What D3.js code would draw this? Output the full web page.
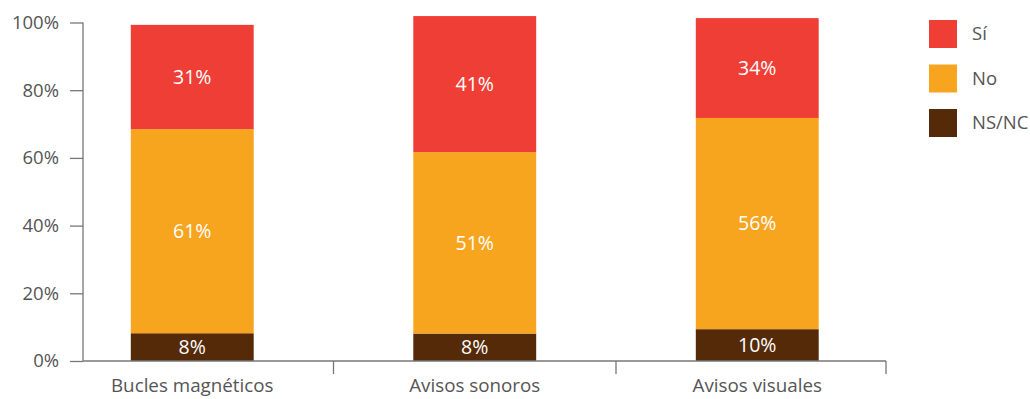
<!DOCTYPE html>
<html>
<head>
<meta charset="utf-8">
<script src="https://cdn.jsdelivr.net/npm/d3@7"></script>
<style>
  html, body { margin: 0; padding: 0; background: #fff; }
  svg { display: block; font-family: "Open Sans", "Noto Sans", sans-serif; }
</style>
</head>
<body>
<svg id="chart" width="1030" height="399"></svg>
<script>
// ---- data ----
const categories = ["Bucles magnéticos", "Avisos sonoros", "Avisos visuales"];
const seriesNames = ["NS/NC", "No", "Sí"];
// drawn segment heights
const nsncValues = [8.2, 8.1, 9.4];
const noValues   = [60.3, 53.6, 62.4];
const siValues   = [30.8, 40.2, 29.5];
// printed labels
const nsncLabels = ["8%", "8%", "10%"];
const noLabels   = ["61%", "51%", "56%"];
const siLabels   = ["31%", "41%", "34%"];
const yTicks = [0, 20, 40, 60, 80, 100];
const legendOrder = ["Sí", "No", "NS/NC"];

// ---- layout ----
const colors = { "Sí": "#EE3E36", "No": "#F7A51F", "NS/NC": "#552A09" };
const plotLeft = 83, plotRight = 886, plotTop = 22.5, plotBottom = 361;
const svg = d3.select("#chart");

const x = d3.scaleBand().domain(categories).range([51, 898.5]).padding(0);
const y = d3.scaleLinear().domain([0, 100]).range([plotBottom, plotTop]);
const barW = x.bandwidth() * 0.435;

const rows = categories.map((c, i) => ({
  cat: c,
  "NS/NC": nsncValues[i], "No": noValues[i], "Sí": siValues[i],
  labels: { "NS/NC": nsncLabels[i], "No": noLabels[i], "Sí": siLabels[i] }
}));
const stacked = d3.stack().keys(seriesNames)(rows);

const gBars = svg.append("g");
stacked.forEach(layer => {
  const key = layer.key;
  const g = gBars.append("g");
  g.selectAll("rect").data(layer).join("rect")
    .attr("x", d => x(d.data.cat) + x.bandwidth() / 2 - barW / 2)
    .attr("width", barW)
    .attr("y", d => y(d[1]))
    .attr("height", d => y(d[0]) - y(d[1]))
    .attr("fill", colors[key]);
  g.selectAll("text").data(layer).join("text")
    .attr("x", d => x(d.data.cat) + x.bandwidth() / 2)
    .attr("y", d => (y(d[0]) + y(d[1])) / 2)
    .attr("dy", "0.35em")
    .attr("text-anchor", "middle")
    .attr("fill", "#fff")
    .attr("font-size", 19.5)
    .text(d => d.data.labels[key]);
});

// y axis
const yAxis = d3.axisLeft(y).tickValues(yTicks).tickFormat(d => d + "%").tickSize(13).tickPadding(11);
const gy = svg.append("g").attr("transform", `translate(${plotLeft},0)`).call(yAxis);
gy.select(".domain").attr("stroke", "#777").attr("stroke-width", 1.3).attr("d", `M0,${plotTop}V${plotBottom}`);
gy.selectAll(".tick line").attr("stroke", "#777").attr("stroke-width", 1.3);
gy.selectAll(".tick text").attr("fill", "#555").attr("font-size", 18.5)
  .attr("font-family", "'Open Sans', sans-serif");

// x axis
const gx = svg.append("g");
gx.append("line").attr("x1", plotLeft).attr("x2", plotRight)
  .attr("y1", plotBottom).attr("y2", plotBottom)
  .attr("stroke", "#777").attr("stroke-width", 1.3);
const tickXs = categories.slice(1).map(c => x(c)).concat([plotRight]);
gx.selectAll("line.tk").data(tickXs).join("line").attr("class", "tk")
  .attr("x1", d => d).attr("x2", d => d)
  .attr("y1", plotBottom).attr("y2", plotBottom + 13)
  .attr("stroke", "#777").attr("stroke-width", 1.3);
gx.selectAll("text").data(categories).join("text")
  .attr("x", d => x(d) + x.bandwidth() / 2)
  .attr("y", plotBottom + 31)
  .attr("text-anchor", "middle")
  .attr("fill", "#555")
  .attr("font-size", 18.8)
  .text(d => d);

// legend
const lg = svg.append("g").attr("transform", "translate(929,20)");
legendOrder.forEach((k, i) => {
  const g = lg.append("g").attr("transform", `translate(0,${i * 44.5})`);
  g.append("rect").attr("width", 28).attr("height", 28).attr("fill", colors[k]);
  g.append("text").attr("x", 43).attr("y", 14).attr("dy", "0.35em")
    .attr("fill", "#555").attr("font-size", 18.5).text(k);
});
</script>
</body>
</html>
